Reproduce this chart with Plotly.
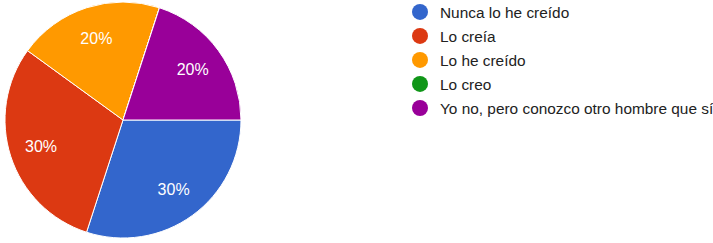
import plotly.graph_objects as go

labels = ["Nunca lo he creído", "Lo creía", "Lo he creído", "Lo creo",
          "Yo no, pero conozco otro hombre que sí"]
values = [30, 30, 20, 0, 20]
colors = ["#3366cc", "#dc3912", "#ff9900", "#109618", "#990099"]

W, H = 713, 243
FONT = "Arial, Liberation Sans, sans-serif"
dom = dict(x=[5 / W, 241 / W], y=[1 - 238 / H, 1 - 2 / H])
fig = go.Figure()
# filled pie (slices)
fig.add_trace(go.Pie(
    labels=labels, values=values, sort=False, direction="clockwise", rotation=90,
    marker=dict(colors=colors, line=dict(color="white", width=1)),
    textinfo="none", showlegend=False, hoverinfo="label+percent", domain=dom,
))
# transparent ring carrying the percentage labels further out
fig.add_trace(go.Pie(
    labels=labels, values=values, sort=False, direction="clockwise", rotation=90,
    hole=0.46,
    marker=dict(colors=["rgba(0,0,0,0)"] * len(values), line=dict(width=0)),
    textinfo="percent", textposition="inside", insidetextorientation="horizontal",
    textfont=dict(color="white", size=16, family=FONT),
    showlegend=False, hoverinfo="skip", domain=dom,
))
for i, (lab, col) in enumerate(zip(labels, colors)):
    fig.add_trace(go.Scatter(
        x=[None], y=[None], mode="markers", name=lab, legendgroup=f"g{i}",
        marker=dict(color=col, size=16, symbol="circle"), showlegend=True,
    ))

fig.update_layout(
    width=W, height=H, margin=dict(l=0, r=0, t=0, b=0, pad=0, autoexpand=False),
    paper_bgcolor="white", plot_bgcolor="white",
    xaxis=dict(visible=False), yaxis=dict(visible=False),
    font=dict(family=FONT, size=15.4, color="#222222"),
    legend=dict(x=400 / W, y=1.019, xanchor="left", yanchor="top",
                tracegroupgap=1, itemwidth=30, bgcolor="rgba(0,0,0,0)",
                font=dict(family=FONT, size=15.4, color="#222222")),
)
fig.write_html("out.html", config={"displayModeBar": False},
               post_script="document.body.style.margin='0';document.body.style.overflow='hidden';")
